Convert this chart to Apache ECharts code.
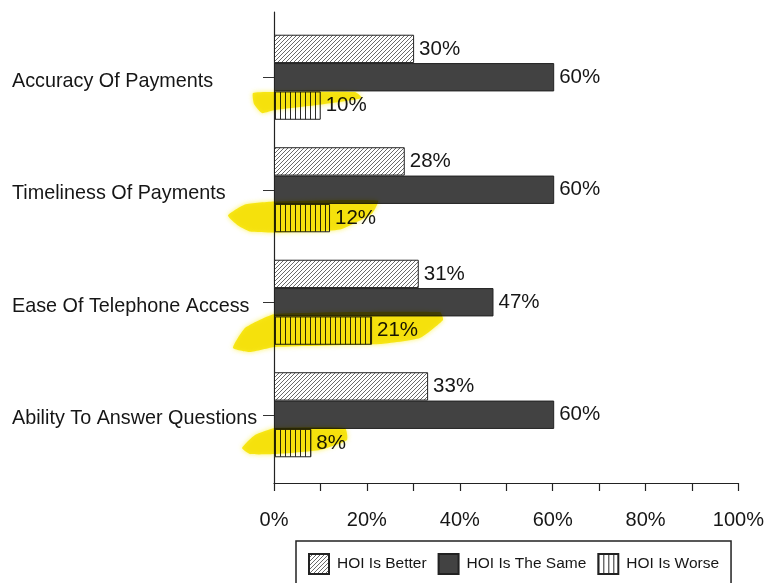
<!DOCTYPE html>
<html>
<head>
<meta charset="utf-8">
<title>HOI service comparison</title>
<script src="https://cdn.jsdelivr.net/npm/echarts/dist/echarts.min.js"></script>
<style>
  html, body { margin: 0; padding: 0; background: #fff; }
  #chart { width: 767px; height: 583px; }
</style>
</head>
<body>
<div id="chart"></div>
<script>
// Survey categories, top to bottom
const categories = [
  'Accuracy Of Payments',
  'Timeliness Of Payments',
  'Ease Of Telephone Access',
  'Ability To Answer Questions'
];
// Percent of respondents per answer
const better = [30, 28, 31, 33];
const same = [60, 60, 47, 60];
const worse = [10, 12, 21, 8];
const seriesNames = ['HOI Is Better', 'HOI Is The Same', 'HOI Is Worse'];
// Value axis range and labelled steps
const axisMin = 0;
const axisMax = 100;
const labelStep = 20;

const FONT = '"Liberation Sans", Arial, Helvetica, sans-serif';
const INK = '#161616';

// Diagonal hatching tile
function hatchTile() {
  const c = document.createElement('canvas');
  c.width = 4; c.height = 4;
  const g = c.getContext('2d');
  g.fillStyle = '#ffffff';
  g.fillRect(0, 0, 4, 4);
  g.strokeStyle = '#6a6a6a';
  g.lineWidth = 1;
  g.beginPath();
  g.moveTo(-1, 5); g.lineTo(5, -1);
  g.moveTo(-1, 1); g.lineTo(1, -1);
  g.moveTo(3, 5); g.lineTo(5, 3);
  g.stroke();
  return c;
}
// Vertical line tile
function stripeTile() {
  const c = document.createElement('canvas');
  c.width = 5; c.height = 2;
  const g = c.getContext('2d');
  g.fillStyle = '#ffffff';
  g.fillRect(0, 0, 5, 2);
  g.fillStyle = '#2a2a2a';
  g.fillRect(0, 0, 1, 2);
  return c;
}

const hatchFill = { image: hatchTile(), repeat: 'repeat' };
const stripeFill = { image: stripeTile(), repeat: 'repeat' };
const solidFill = '#424242';

function barSeries(name, data, fill) {
  return {
    name: name,
    type: 'bar',
    xAxisIndex: 0,
    yAxisIndex: 0,
    data: data,
    barGap: '0%',
    barCategoryGap: '24.4%',
    itemStyle: { color: fill, borderColor: '#222', borderWidth: 1 },
    label: {
      show: true,
      position: 'right',
      distance: 5,
      formatter: '{c}%',
      fontFamily: FONT,
      fontSize: 20.5,
      color: INK,
      padding: [3, 0, 0, 0]
    },
    emphasis: { disabled: true }
  };
}

const chart = echarts.init(document.getElementById('chart'), null, { renderer: 'canvas' });

chart.setOption({
  animation: false,
  backgroundColor: '#ffffff',
  textStyle: { fontFamily: FONT },
  grid: [
    // bar area
    { left: 274, right: 26, top: 21, bottom: 112, containLabel: false },
    // axis frame
    { left: 274, right: 26, top: 12, bottom: 100, containLabel: false }
  ],
  xAxis: [
    { gridIndex: 0, type: 'value', min: axisMin, max: axisMax, show: false },
    {
      gridIndex: 1, type: 'value', min: axisMin, max: axisMax, interval: labelStep,
      axisLine: { show: true, onZero: false, lineStyle: { color: '#222', width: 1.2 } },
      axisTick: { show: true, length: 8, lineStyle: { color: '#222', width: 1.2 } },
      minorTick: { show: true, splitNumber: 2, length: 8, lineStyle: { color: '#222', width: 1.2 } },
      splitLine: { show: false },
      axisLabel: { formatter: '{value}%', margin: 27, fontSize: 20, color: INK, fontFamily: FONT }
    }
  ],
  yAxis: [
    {
      gridIndex: 0, type: 'category', data: categories, inverse: true,
      axisLine: { show: false },
      axisTick: { show: true, alignWithLabel: true, length: 11, lineStyle: { color: '#333', width: 1 } },
      axisLabel: {
        align: 'left', margin: 262, color: INK,
        formatter: function (v) { return '{c|' + v + '}'; },
        rich: { c: { fontSize: 19.8, fontFamily: FONT, color: INK, padding: [8, 0, 0, 0] } }
      }
    },
    {
      gridIndex: 1, type: 'value', min: 0, max: 1,
      axisLine: { show: true, onZero: false, lineStyle: { color: '#222', width: 1.2 } },
      axisTick: { show: false },
      axisLabel: { show: false },
      splitLine: { show: false }
    }
  ],
  legend: {
    data: seriesNames,
    left: 296,
    top: 541,
    orient: 'horizontal',
    icon: 'rect',
    itemWidth: 20,
    itemHeight: 20,
    itemGap: 11,
    padding: [12, 12, 24, 12],
    borderColor: '#222',
    borderWidth: 1.5,
    selectedMode: false,
    textStyle: { fontFamily: FONT, fontSize: 15.5, color: INK, padding: [0, 0, 0, 3] }
  },
  series: [
    barSeries(seriesNames[0], better, hatchFill),
    barSeries(seriesNames[1], same, solidFill),
    barSeries(seriesNames[2], worse, stripeFill)
  ]
});

// Yellow highlighter strokes over the "worse" bars.
// Offsets are in pixels from the axis origin (x) and the worse-bar centre (y).
const strokes = [
  [[-21,-12.5],[1,-13.5],[81,-13.5],[88,-7.5],[51,-1.5],[1,4.5],[-12,7.5],[-20,-1.5]],
  [[-46,-2.5],[-29,-13.5],[1,-16.5],[104,-17.5],[98,-4.5],[66,11.5],[1,14.5],[-24,13.5],[-36,7.5]],
  [[-41,17.5],[-29,-2.5],[1,-16.5],[166,-18.5],[169,-10.5],[146,7.5],[106,13.5],[1,16.5],[-24,21.5]],
  [[-32,5],[-19,-8],[1,-15],[71,-15],[73,-3],[46,7],[1,11],[-24,11]]
];

function drawHighlights() {
  const y0 = chart.convertToPixel({ yAxisIndex: 0 }, categories[0]);
  const y1 = chart.convertToPixel({ yAxisIndex: 0 }, categories[1]);
  const band = y1 - y0;
  const barW = band * (1 - 0.244) / 3;
  const graphics = categories.map(function (cat, i) {
    const cx = chart.convertToPixel({ xAxisIndex: 0 }, axisMin);
    const cy = chart.convertToPixel({ yAxisIndex: 0 }, cat) + barW;
    return {
      type: 'polygon',
      silent: true,
      z: 100,
      shape: { points: strokes[i].map(function (p) { return [cx + p[0], cy + p[1]]; }), smooth: 0.15 },
      style: {
        fill: 'rgba(248, 234, 0, 0.88)',
        blend: 'multiply',
        shadowBlur: 5,
        shadowColor: 'rgba(248, 234, 0, 0.7)'
      }
    };
  });
  chart.setOption({ graphic: graphics });
}
drawHighlights();
</script>
</body>
</html>
